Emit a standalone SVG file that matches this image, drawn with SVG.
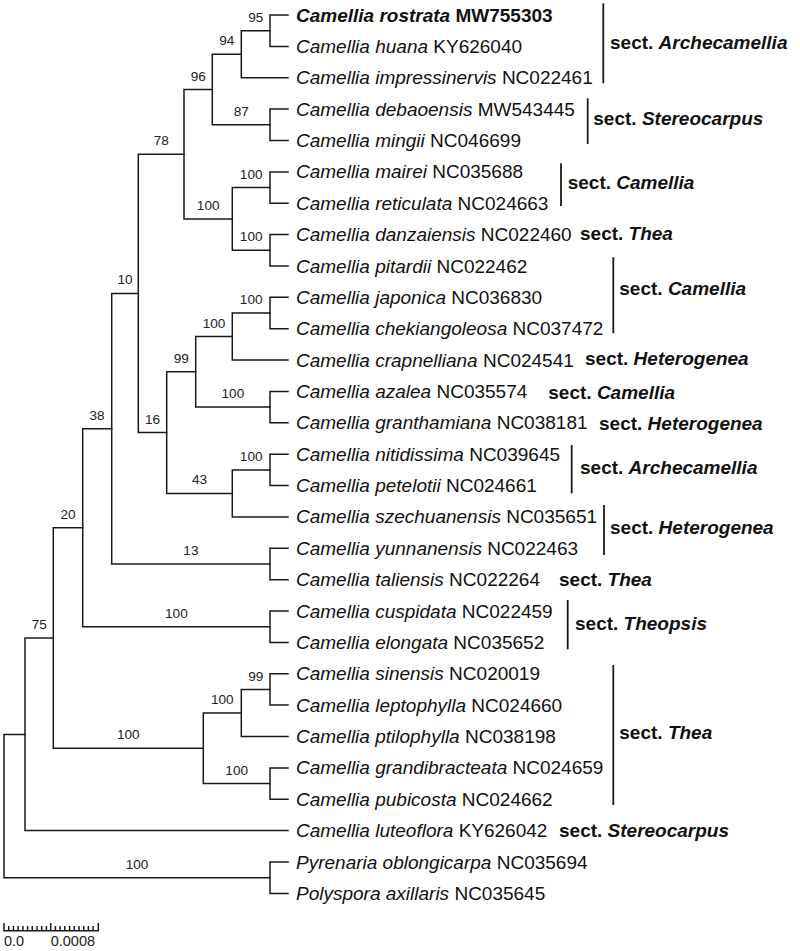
<svg xmlns="http://www.w3.org/2000/svg" width="800" height="951" viewBox="0 0 800 951">
<style>
.br{fill:none;stroke:#1a1a1a;stroke-width:1.5;stroke-linecap:square}
.bar{fill:none;stroke:#1a1a1a;stroke-width:1.8}
.lf{font-family:"Liberation Sans",Arial,sans-serif;font-size:19px;fill:#111}
.it{font-style:italic}
.bs{font-family:"Liberation Sans",Arial,sans-serif;font-size:13.6px;fill:#222;text-anchor:middle}
.sc{font-family:"Liberation Sans",Arial,sans-serif;font-size:19px;font-weight:bold;fill:#111}
.sb{font-family:"Liberation Sans",Arial,sans-serif;font-size:14.5px;fill:#222}
</style>
<rect width="800" height="951" fill="#fff"/>
<g id="connectors" class="br">
<path d="M270 15H288M270 46.4H288M270 15V46.4"/>
<path d="M241.3 30.7H270M241.3 77.7H288M241.3 30.7V77.7"/>
<path d="M270 109.1H288M270 140.5H288M270 109.1V140.5"/>
<path d="M212.3 54.2H241.3M212.3 124.8H270M212.3 54.2V124.8"/>
<path d="M270 171.9H288M270 203.2H288M270 171.9V203.2"/>
<path d="M270 234.6H288M270 266H288M270 234.6V266"/>
<path d="M232.3 187.5H270M232.3 250.3H270M232.3 187.5V250.3"/>
<path d="M184 89.5H212.3M184 218.9H232.3M184 89.5V218.9"/>
<path d="M270 297.3H288M270 328.7H288M270 297.3V328.7"/>
<path d="M232.3 313H270M232.3 360.1H288M232.3 313V360.1"/>
<path d="M270 391.4H288M270 422.8H288M270 391.4V422.8"/>
<path d="M195.7 336.6H232.3M195.7 407.1H270M195.7 336.6V407.1"/>
<path d="M270 454.2H288M270 485.6H288M270 454.2V485.6"/>
<path d="M232.3 469.9H270M232.3 516.9H288M232.3 469.9V516.9"/>
<path d="M166.7 371.8H195.7M166.7 493.4H232.3M166.7 371.8V493.4"/>
<path d="M138.3 154.2H184M138.3 432.6H166.7M138.3 154.2V432.6"/>
<path d="M270 548.3H288M270 579.7H288M270 548.3V579.7"/>
<path d="M111.7 293.4H138.3M111.7 564H270M111.7 293.4V564"/>
<path d="M270 611H288M270 642.4H288M270 611V642.4"/>
<path d="M82.7 428.7H111.7M82.7 626.7H270M82.7 428.7V626.7"/>
<path d="M270 673.8H288M270 705.1H288M270 673.8V705.1"/>
<path d="M241.3 689.5H270M241.3 736.5H288M241.3 689.5V736.5"/>
<path d="M270 767.9H288M270 799.3H288M270 767.9V799.3"/>
<path d="M203.3 713H241.3M203.3 783.6H270M203.3 713V783.6"/>
<path d="M53.3 527.7H82.7M53.3 748.3H203.3M53.3 527.7V748.3"/>
<path d="M25 638H53.3M25 830.6H288M25 638V830.6"/>
<path d="M270 862H288M270 893.4H288M270 862V893.4"/>
<path d="M4 734.4H25M4 877.7H270M4 734.4V877.7"/>
</g>
<g id="bootstrap">
<g id="n-A"><text class="bs" x="255.7" y="21.7">95</text></g>
<g id="n-B"><text class="bs" x="226.8" y="45.2">94</text></g>
<g id="n-C"><text class="bs" x="241.2" y="115.8">87</text></g>
<g id="n-D"><text class="bs" x="198.2" y="80.5">96</text></g>
<g id="n-E"><text class="bs" x="251.2" y="178.5">100</text></g>
<g id="n-F"><text class="bs" x="251.2" y="241.3">100</text></g>
<g id="n-G"><text class="bs" x="208.2" y="209.9">100</text></g>
<g id="n-H"><text class="bs" x="161.2" y="145.2">78</text></g>
<g id="n-I"><text class="bs" x="251.2" y="304">100</text></g>
<g id="n-J"><text class="bs" x="214" y="327.6">100</text></g>
<g id="n-K"><text class="bs" x="232.9" y="398.1">100</text></g>
<g id="n-L"><text class="bs" x="181.2" y="362.8">99</text></g>
<g id="n-M"><text class="bs" x="251.2" y="460.9">100</text></g>
<g id="n-N"><text class="bs" x="199.5" y="484.4">43</text></g>
<g id="n-O"><text class="bs" x="152.5" y="423.6">16</text></g>
<g id="n-P"><text class="bs" x="125" y="284.4">10</text></g>
<g id="n-Q"><text class="bs" x="190.9" y="555">13</text></g>
<g id="n-R"><text class="bs" x="97" y="419.7">38</text></g>
<g id="n-S"><text class="bs" x="176.4" y="617.7">100</text></g>
<g id="n-T"><text class="bs" x="68" y="518.7">20</text></g>
<g id="n-U"><text class="bs" x="255.7" y="680.5">99</text></g>
<g id="n-V"><text class="bs" x="222.3" y="704">100</text></g>
<g id="n-W"><text class="bs" x="236.7" y="774.6">100</text></g>
<g id="n-X"><text class="bs" x="128.3" y="739.3">100</text></g>
<g id="n-Y"><text class="bs" x="39.2" y="629">75</text></g>
<g id="n-OG"><text class="bs" x="137" y="868.7">100</text></g>
</g>
<g id="leaves">
<g id="leaf-rostrata"><text class="lf" x="296" y="21.5" font-weight="bold"><tspan class="it">Camellia rostrata</tspan> MW755303</text></g>
<g id="leaf-huana"><text class="lf" x="296" y="52.9"><tspan class="it">Camellia huana</tspan> KY626040</text></g>
<g id="leaf-impressinervis"><text class="lf" x="296" y="84.2"><tspan class="it">Camellia impressinervis</tspan> NC022461</text></g>
<g id="leaf-debaoensis"><text class="lf" x="296" y="115.6"><tspan class="it">Camellia debaoensis</tspan> MW543445</text></g>
<g id="leaf-mingii"><text class="lf" x="296" y="147"><tspan class="it">Camellia mingii</tspan> NC046699</text></g>
<g id="leaf-mairei"><text class="lf" x="296" y="178.4"><tspan class="it">Camellia mairei</tspan> NC035688</text></g>
<g id="leaf-reticulata"><text class="lf" x="296" y="209.7"><tspan class="it">Camellia reticulata</tspan> NC024663</text></g>
<g id="leaf-danzaiensis"><text class="lf" x="296" y="241.1"><tspan class="it">Camellia danzaiensis</tspan> NC022460</text></g>
<g id="leaf-pitardii"><text class="lf" x="296" y="272.5"><tspan class="it">Camellia pitardii</tspan> NC022462</text></g>
<g id="leaf-japonica"><text class="lf" x="296" y="303.8"><tspan class="it">Camellia japonica</tspan> NC036830</text></g>
<g id="leaf-chekiangoleosa"><text class="lf" x="296" y="335.2"><tspan class="it">Camellia chekiangoleosa</tspan> NC037472</text></g>
<g id="leaf-crapnelliana"><text class="lf" x="296" y="366.6"><tspan class="it">Camellia crapnelliana</tspan> NC024541</text></g>
<g id="leaf-azalea"><text class="lf" x="296" y="397.9"><tspan class="it">Camellia azalea</tspan> NC035574</text></g>
<g id="leaf-granthamiana"><text class="lf" x="296" y="429.3"><tspan class="it">Camellia granthamiana</tspan> NC038181</text></g>
<g id="leaf-nitidissima"><text class="lf" x="296" y="460.7"><tspan class="it">Camellia nitidissima</tspan> NC039645</text></g>
<g id="leaf-petelotii"><text class="lf" x="296" y="492.1"><tspan class="it">Camellia petelotii</tspan> NC024661</text></g>
<g id="leaf-szechuanensis"><text class="lf" x="296" y="523.4"><tspan class="it">Camellia szechuanensis</tspan> NC035651</text></g>
<g id="leaf-yunnanensis"><text class="lf" x="296" y="554.8"><tspan class="it">Camellia yunnanensis</tspan> NC022463</text></g>
<g id="leaf-taliensis"><text class="lf" x="296" y="586.2"><tspan class="it">Camellia taliensis</tspan> NC022264</text></g>
<g id="leaf-cuspidata"><text class="lf" x="296" y="617.5"><tspan class="it">Camellia cuspidata</tspan> NC022459</text></g>
<g id="leaf-elongata"><text class="lf" x="296" y="648.9"><tspan class="it">Camellia elongata</tspan> NC035652</text></g>
<g id="leaf-sinensis"><text class="lf" x="296" y="680.3"><tspan class="it">Camellia sinensis</tspan> NC020019</text></g>
<g id="leaf-leptophylla"><text class="lf" x="296" y="711.6"><tspan class="it">Camellia leptophylla</tspan> NC024660</text></g>
<g id="leaf-ptilophylla"><text class="lf" x="296" y="743"><tspan class="it">Camellia ptilophylla</tspan> NC038198</text></g>
<g id="leaf-grandibracteata"><text class="lf" x="296" y="774.4"><tspan class="it">Camellia grandibracteata</tspan> NC024659</text></g>
<g id="leaf-pubicosta"><text class="lf" x="296" y="805.8"><tspan class="it">Camellia pubicosta</tspan> NC024662</text></g>
<g id="leaf-luteoflora"><text class="lf" x="296" y="837.1"><tspan class="it">Camellia luteoflora</tspan> KY626042</text></g>
<g id="leaf-pyrenaria"><text class="lf" x="296" y="868.5"><tspan class="it">Pyrenaria oblongicarpa</tspan> NC035694</text></g>
<g id="leaf-polyspora"><text class="lf" x="296" y="899.9"><tspan class="it">Polyspora axillaris</tspan> NC035645</text></g>
</g>
<g id="sections">
<g id="sec-archecamellia-1"><path class="bar" d="M603.3 3.3V83.3"/><text class="sc" x="610" y="48.5">sect. <tspan class="it">Archecamellia</tspan></text></g>
<g id="sec-stereocarpus-1"><path class="bar" d="M587.7 98.3V144"/><text class="sc" x="593.3" y="125">sect. <tspan class="it">Stereocarpus</tspan></text></g>
<g id="sec-camellia-1"><path class="bar" d="M561 163.3V206"/><text class="sc" x="567.7" y="188.5">sect. <tspan class="it">Camellia</tspan></text></g>
<g id="sec-thea-1"><text class="sc" x="580" y="240">sect. <tspan class="it">Thea</tspan></text></g>
<g id="sec-camellia-2"><path class="bar" d="M613.3 257.3V333.3"/><text class="sc" x="619.3" y="294.5">sect. <tspan class="it">Camellia</tspan></text></g>
<g id="sec-heterogenea-1"><text class="sc" x="585" y="365">sect. <tspan class="it">Heterogenea</tspan></text></g>
<g id="sec-camellia-3"><text class="sc" x="548.3" y="398.5">sect. <tspan class="it">Camellia</tspan></text></g>
<g id="sec-heterogenea-2"><text class="sc" x="599" y="429.5">sect. <tspan class="it">Heterogenea</tspan></text></g>
<g id="sec-archecamellia-2"><path class="bar" d="M571.7 445V493.3"/><text class="sc" x="580" y="474">sect. <tspan class="it">Archecamellia</tspan></text></g>
<g id="sec-heterogenea-3"><path class="bar" d="M604 505V555"/><text class="sc" x="610" y="533.5">sect. <tspan class="it">Heterogenea</tspan></text></g>
<g id="sec-thea-2"><text class="sc" x="559" y="586">sect. <tspan class="it">Thea</tspan></text></g>
<g id="sec-theopsis"><path class="bar" d="M567.7 600V649.3"/><text class="sc" x="575" y="630">sect. <tspan class="it">Theopsis</tspan></text></g>
<g id="sec-thea-3"><path class="bar" d="M613.3 665V805"/><text class="sc" x="619.3" y="738.5">sect. <tspan class="it">Thea</tspan></text></g>
<g id="sec-stereocarpus-2"><text class="sc" x="559" y="837">sect. <tspan class="it">Stereocarpus</tspan></text></g>
</g>
<g id="scalebar">
<path class="br" stroke-linecap="butt" d="M4 930.7H98.3M4 923.7V930.7M50.7 923.7V930.7M98.3 923.7V930.7M8.7 926.7V930.7M13.4 926.7V930.7M18.1 926.7V930.7M22.9 926.7V930.7M27.6 926.7V930.7M32.3 926.7V930.7M37 926.7V930.7M41.7 926.7V930.7M46.4 926.7V930.7M55.4 926.7V930.7M60.1 926.7V930.7M64.8 926.7V930.7M69.6 926.7V930.7M74.3 926.7V930.7M79 926.7V930.7M83.7 926.7V930.7M88.4 926.7V930.7M93.1 926.7V930.7"/>
<text class="sb" x="4" y="946">0.0</text>
<text class="sb" x="50.7" y="946">0.0008</text>
</g>
</svg>
